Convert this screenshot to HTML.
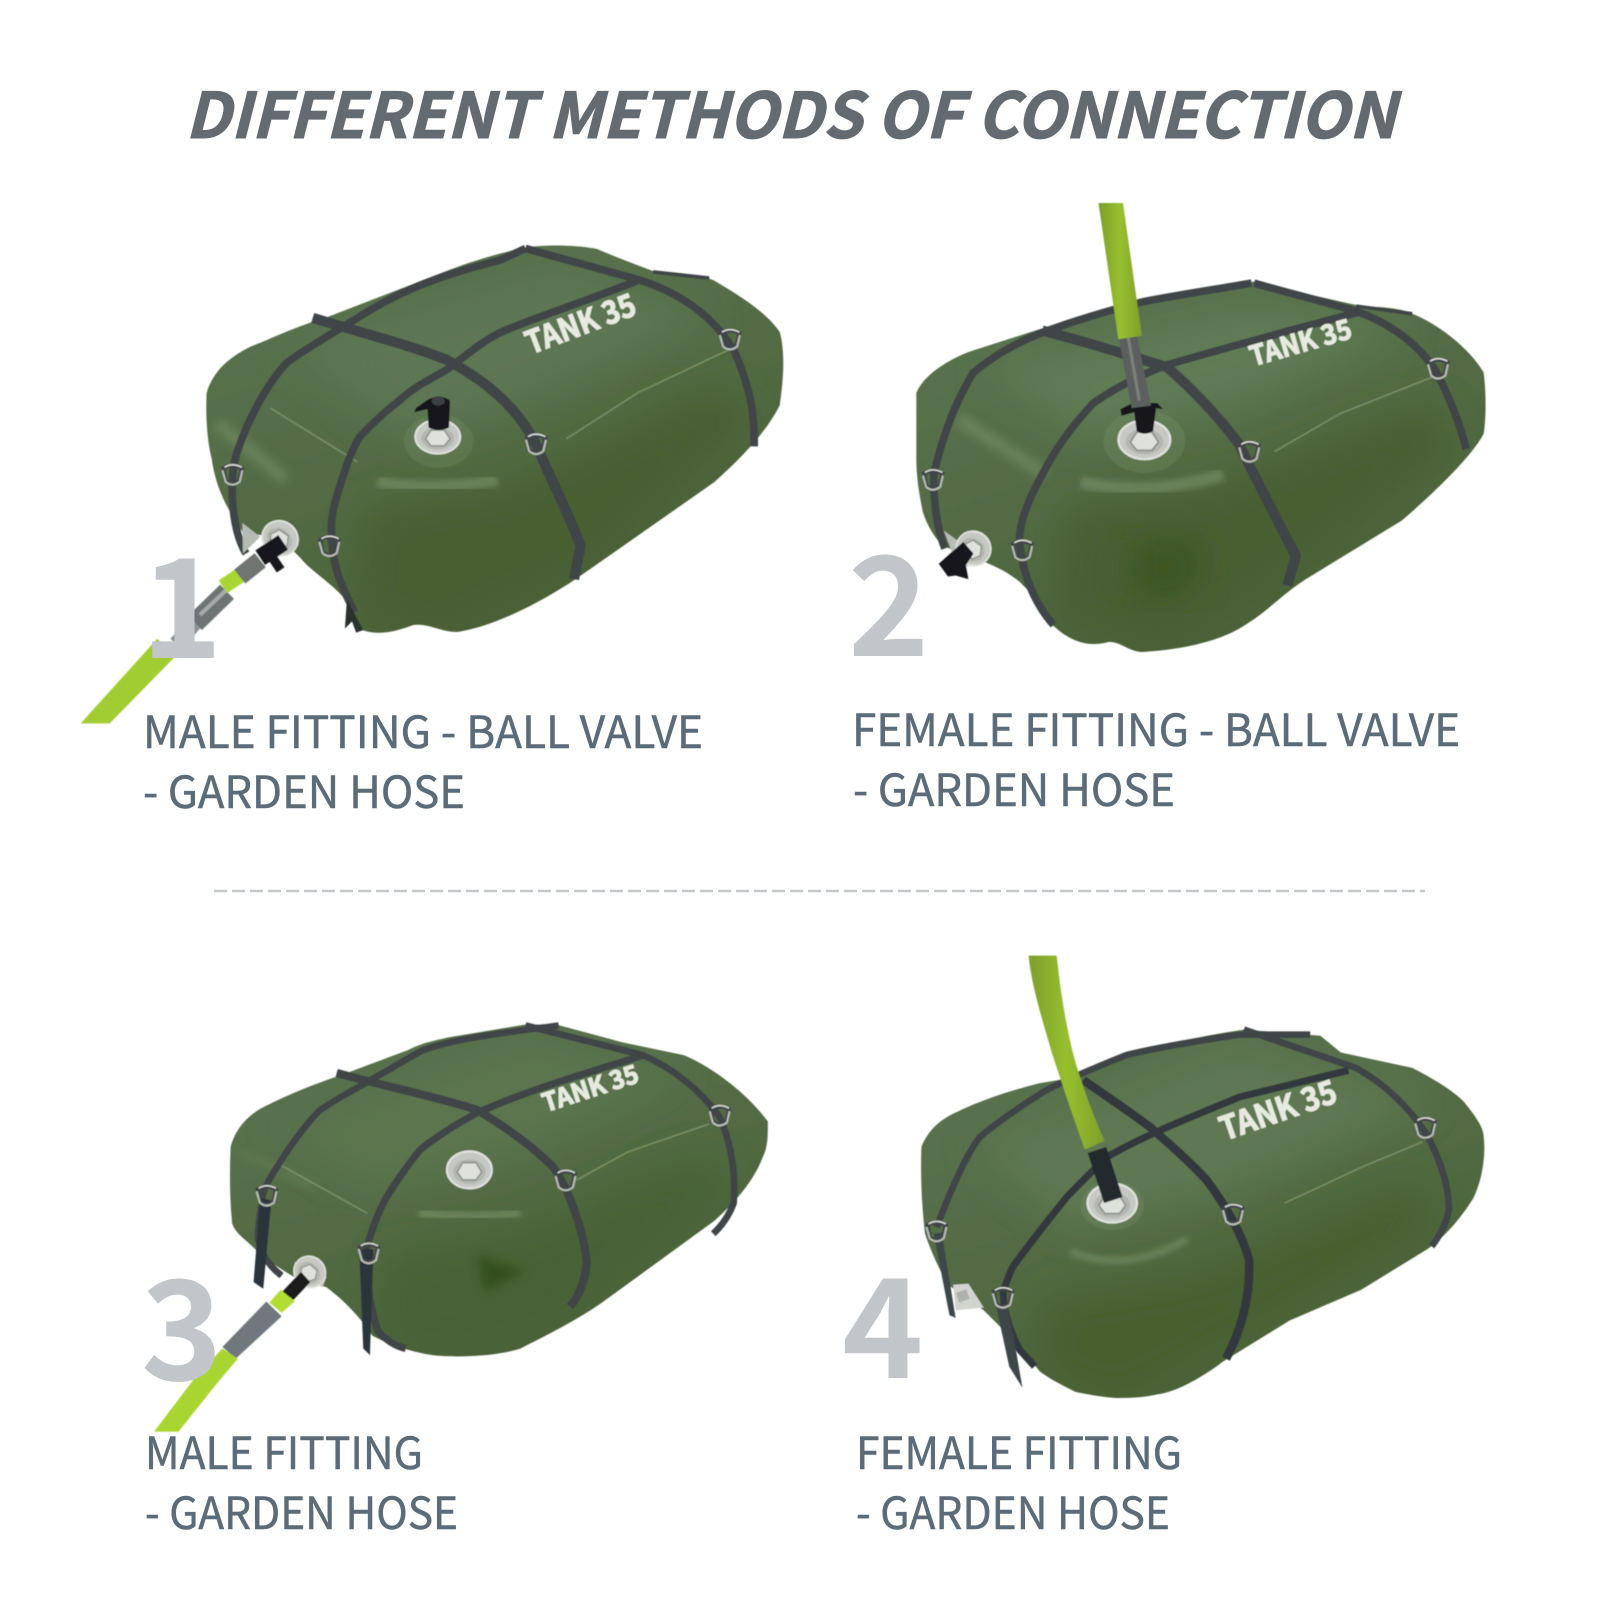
<!DOCTYPE html>
<html><head><meta charset="utf-8"><style>
html,body{margin:0;padding:0;background:#fff}
svg{display:block}
.h{font-family:"Noto Sans CJK JP","Liberation Sans",sans-serif;font-weight:700;font-style:italic;font-size:63px;fill:#636a70;stroke:#636a70;stroke-width:1}
.l{font-family:"Noto Sans CJK JP","Liberation Sans",sans-serif;font-size:44px;fill:#5b6b78;stroke:#5b6b78;stroke-width:.5}
.n{font-family:"Noto Sans CJK JP","Liberation Sans",sans-serif;font-weight:700;font-size:138px;fill:#c2c6ca}
.t{font-family:"Noto Sans CJK JP","Liberation Sans",sans-serif;font-weight:700;font-size:62px;fill:#e6eadf;stroke:#e6eadf;stroke-width:2}
.s{fill:none;stroke:#3f4446;stroke-width:15;stroke-linecap:butt;stroke-linejoin:round}
.a{stroke-width:20}
.m{fill:none;stroke:#8aa076;stroke-width:3;opacity:.7}
.r{fill:none;stroke:#7f9670;stroke-width:24;opacity:.55}
</style></head><body>
<svg width="1600" height="1600" viewBox="0 0 1600 1600" xmlns="http://www.w3.org/2000/svg">
<defs>
<linearGradient id="body" x1="0.15" y1="0" x2="0.65" y2="1"><stop offset="0" stop-color="#5b7350"/><stop offset=".5" stop-color="#536b45"/><stop offset="1" stop-color="#4b6138"/></linearGradient>
<linearGradient id="lime" x1="0" y1="0" x2="1" y2="0"><stop offset="0" stop-color="#7c9f2e"/><stop offset=".5" stop-color="#98bf2f"/><stop offset="1" stop-color="#7f9f2b"/></linearGradient>
<filter id="b40" x="-30%" y="-30%" width="160%" height="160%"><feGaussianBlur stdDeviation="38"/></filter>
<filter id="b12" x="-30%" y="-30%" width="160%" height="160%"><feGaussianBlur stdDeviation="10"/></filter>
<filter id="b5" x="-30%" y="-30%" width="160%" height="160%"><feGaussianBlur stdDeviation="5"/></filter>
<filter id="soft" x="-5%" y="-5%" width="110%" height="110%"><feGaussianBlur stdDeviation="1"/></filter>
<g id="ring" fill="none"><path d="M-17,-12 Q0,-22 19,-12 L14,12 Q0,24 -13,12 Z" stroke="#3f4446" stroke-width="8"/><path d="M-19,-8 L-13,14 Q0,26 15,14 L20,-8" stroke="#b8bdb6" stroke-width="4"/><path d="M-15,-14 Q0,-24 19,-14" stroke="#d8dbd5" stroke-width="3"/></g>
<g id="silver"><ellipse rx="44" ry="33" fill="#c6c9c3"/><ellipse rx="44" ry="33" fill="none" stroke="#dfe1dc" stroke-width="4"/><ellipse cy="3" rx="32" ry="22" fill="#b4b7b1"/><path d="M-24,4 L-13,-13 L13,-13 L24,4 L13,18 L-13,18 Z" fill="#dfe1dc" stroke="#8f938e" stroke-width="3"/></g>
</defs>

<rect width="1600" height="1600" fill="#fff"/>

<!-- TANK 1 -->
<g transform="scale(.5102)" filter="url(#soft)">
<clipPath id="c1"><path d="M405,770 C415,735 440,705 490,680 C540,660 580,640 640,622 L840,545 C900,520 960,500 1030,485 C1080,478 1140,482 1170,488 C1210,505 1250,520 1290,535 C1340,535 1380,540 1400,550 C1450,580 1500,610 1528,650 C1540,690 1535,750 1528,795 C1500,850 1450,900 1400,945 L1150,1120 C1080,1170 980,1225 900,1238 C870,1242 840,1220 810,1225 C770,1240 740,1245 710,1235 L680,1180 C660,1150 610,1120 590,1095 C560,1060 510,1040 480,1050 C455,1010 425,970 415,900 C405,860 403,810 405,770 Z"/></clipPath>
<path d="M405,770 C415,735 440,705 490,680 C540,660 580,640 640,622 L840,545 C900,520 960,500 1030,485 C1080,478 1140,482 1170,488 C1210,505 1250,520 1290,535 C1340,535 1380,540 1400,550 C1450,580 1500,610 1528,650 C1540,690 1535,750 1528,795 C1500,850 1450,900 1400,945 L1150,1120 C1080,1170 980,1225 900,1238 C870,1242 840,1220 810,1225 C770,1240 740,1245 710,1235 L680,1180 C660,1150 610,1120 590,1095 C560,1060 510,1040 480,1050 C455,1010 425,970 415,900 C405,860 403,810 405,770 Z" fill="url(#body)"/>
<g clip-path="url(#c1)">
<path filter="url(#b40)" d="M720,1000 L1000,960 L1400,760 L1480,820 L1150,1120 L850,1260 L700,1200 Z" fill="#485f32"/>
<path filter="url(#b40)" d="M560,680 L1100,520 L1400,620 L1000,800 L800,860 Z" fill="#5d7652"/>
<path filter="url(#b5)" class="r" d="M740,945 Q850,965 975,940"/>
<path filter="url(#b12)" class="r" d="M425,830 L560,940"/>
</g>
<path class="m" d="M1110,860 L1250,770 L1440,680"/><path class="m" d="M530,800 L700,905"/>
<path class="s" d="M1030,487 L980,510 C880,535 790,565 706,620 C640,660 590,690 562,711 C530,745 490,810 464,888 C450,930 450,1030 482,1085"/>
<path class="s" d="M1030,487 L1240,545 C1330,570 1400,620 1440,690 C1470,760 1480,810 1478,875"/>
<path class="s a" d="M613,623 C700,650 800,675 875,705 C920,730 950,750 980,778 C1010,805 1035,840 1050,870 C1085,950 1120,1020 1138,1070 L1125,1135"/>
<path class="s" d="M1255,548 C1150,590 1040,625 980,652 C940,672 910,700 875,725 C840,745 810,760 784,784 C750,810 725,835 705,856 C685,890 675,925 666,954 C650,1000 648,1030 650,1044 C650,1110 670,1150 695,1200"/>
<path d="M680,1175 L712,1235 L698,1240 L690,1218 L676,1232 Z" fill="#2c302f"/>
<path d="M1280,533 L1390,545" class="s" style="stroke-width:7"/>
<use href="#ring" x="455" y="930"/><use href="#ring" x="645" y="1070"/><use href="#ring" x="1050" y="870"/><use href="#ring" x="1430" y="665"/>
<ellipse cx="860" cy="865" rx="68" ry="52" fill="#7f9670" opacity=".25"/>
<use href="#silver" x="858" y="856"/>
<path d="M836,785 L815,800 L812,808 L838,802 L840,838 Q860,848 880,838 L882,785 Q860,770 836,785 Z" fill="#14181a"/>
<ellipse cx="859" cy="786" rx="13" ry="9" fill="#3a4044"/>
<path d="M475,1025 L510,1052 L476,1085 Z" fill="#b5bab2"/>
<g transform="translate(549,1055) rotate(35) scale(.82,1)"><use href="#silver"/></g>
<path d="M158,1418 L215,1418 L345,1285 L308,1252 Z" fill="#a2cd30"/>
<path d="M382,1221 L445,1160" stroke="#6e7373" stroke-width="39" fill="none"/>
<path d="M345,1262 L382,1221" stroke="#8f9493" stroke-width="30" fill="none"/>
<path d="M392,1205 L445,1155" stroke="#a6abaa" stroke-width="8" fill="none"/>
<path d="M437,1150 L476,1124" stroke="#a9d533" stroke-width="30" fill="none"/>
<path d="M470,1130 L510,1098" stroke="#6f7471" stroke-width="35" fill="none"/>
<path d="M510,1093 L555,1063" stroke="#14181a" stroke-width="34" fill="none"/>
<path d="M525,1080 L550,1117" stroke="#14181a" stroke-width="18" fill="none"/>
<text class="t" textLength="226" lengthAdjust="spacingAndGlyphs" transform="translate(1040,695) rotate(-20.7)">TANK 35</text>
</g>

<!-- TANK 2 -->
<g transform="translate(800,0) scale(.5102)" filter="url(#soft)">
<clipPath id="c2"><path d="M228,770 C240,740 280,710 330,690 L470,645 L670,590 C760,570 830,560 890,552 L1010,580 L1100,600 C1150,602 1180,605 1200,615 C1250,635 1310,680 1340,730 C1345,770 1345,820 1340,850 C1320,890 1250,960 1180,1020 L1000,1130 C950,1160 920,1195 880,1220 C830,1255 760,1272 670,1278 C640,1275 630,1258 605,1258 C580,1265 540,1270 490,1220 C470,1180 450,1160 430,1140 C400,1115 360,1100 330,1090 L280,1070 C260,1050 245,1020 240,1000 C232,960 228,930 228,900 Z"/></clipPath>
<path d="M228,770 C240,740 280,710 330,690 L470,645 L670,590 C760,570 830,560 890,552 L1010,580 L1100,600 C1150,602 1180,605 1200,615 C1250,635 1310,680 1340,730 C1345,770 1345,820 1340,850 C1320,890 1250,960 1180,1020 L1000,1130 C950,1160 920,1195 880,1220 C830,1255 760,1272 670,1278 C640,1275 630,1258 605,1258 C580,1265 540,1270 490,1220 C470,1180 450,1160 430,1140 C400,1115 360,1100 330,1090 L280,1070 C260,1050 245,1020 240,1000 C232,960 228,930 228,900 Z" fill="url(#body)"/>
<g clip-path="url(#c2)">
<path filter="url(#b40)" d="M520,1000 L800,960 L1240,790 L1280,880 L1000,1100 L720,1280 L500,1220 Z" fill="#485f32"/>
<path filter="url(#b40)" d="M360,720 L880,590 L1200,640 L860,800 L560,860 Z" fill="#5f7a55"/>
<path filter="url(#b5)" class="r" d="M550,945 Q680,975 830,930"/>
<path filter="url(#b12)" class="r" d="M310,820 L480,930"/>
<path filter="url(#b40)" d="M650,1060 L800,1060 L760,1170 L650,1170 Z" fill="#3a5423"/>
</g>
<path class="m" d="M930,885 L1060,810 L1250,735"/>
<path class="s" d="M885,555 C810,568 740,578 670,592 C600,610 540,628 480,650 Q400,680 340,730 Q290,810 262,930 Q262,1020 284,1075"/>
<path class="s" d="M890,555 C960,575 1030,592 1090,610 Q1190,645 1245,725 Q1285,800 1306,880"/>
<path class="s a" d="M475,648 C560,670 640,695 720,720 Q800,790 860,870 Q920,990 972,1090 L955,1148"/>
<path class="s" d="M1095,612 C970,645 840,680 720,715 Q640,745 575,790 Q510,860 475,930 Q430,1010 430,1060 Q440,1160 497,1225"/>
<path class="s" style="stroke-width:7" d="M1090,600 L1200,615"/>
<use href="#ring" x="260" y="940"/><use href="#ring" x="435" y="1078"/><use href="#ring" x="880" y="885"/><use href="#ring" x="1250" y="722"/>
<ellipse cx="675" cy="865" rx="80" ry="62" fill="#7f9670" opacity=".28"/>
<g transform="translate(675,862) scale(1.15)"><use href="#silver"/></g>
<path d="M652,790 L628,802 L630,815 L655,808 L660,845 Q675,855 692,845 L698,800 L712,802 L700,790 Z" fill="#15191a"/>
<path d="M625,662 L660,655 L688,795 L650,800 Z" fill="#5b5f5d"/>
<path d="M643,660 L665,785" stroke="#7b8078" stroke-width="6" fill="none"/>
<path d="M585,398 L633,398 L670,658 L624,665 Z" fill="url(#lime)"/>
<path d="M282,1040 L365,1100 L310,1115 Z" fill="#b9bcb8"/>
<g transform="translate(340,1075) rotate(35) scale(.78,1)"><use href="#silver"/></g>
<path d="M272,1105 L320,1062 L340,1085 L325,1108 L330,1135 L305,1128 L290,1130 Z" fill="#15191a"/>
<text class="t" textLength="205" lengthAdjust="spacingAndGlyphs" style="font-size:54px" transform="translate(888,718) rotate(-16)">TANK 35</text>
</g>

<!-- TANK 3 -->
<g transform="translate(0,800) scale(.5102)" filter="url(#soft)">
<clipPath id="c3"><path d="M452,680 C460,650 480,620 520,600 C570,575 620,555 680,535 L800,490 C830,475 850,472 880,465 L1030,440 L1090,440 L1220,475 L1340,500 C1390,520 1460,570 1505,630 C1505,660 1505,680 1495,700 C1480,740 1450,780 1400,825 L1180,985 C1130,1020 1070,1050 1020,1075 C980,1088 920,1092 880,1090 C840,1090 810,1080 790,1075 C770,1070 750,1060 730,1050 C710,1020 680,985 640,955 C610,945 590,945 560,925 C530,905 510,895 500,880 C480,860 462,850 455,830 C450,780 450,730 452,680 Z"/></clipPath>
<path d="M452,680 C460,650 480,620 520,600 C570,575 620,555 680,535 L800,490 C830,475 850,472 880,465 L1030,440 L1090,440 L1220,475 L1340,500 C1390,520 1460,570 1505,630 C1505,660 1505,680 1495,700 C1480,740 1450,780 1400,825 L1180,985 C1130,1020 1070,1050 1020,1075 C980,1088 920,1092 880,1090 C840,1090 810,1080 790,1075 C770,1070 750,1060 730,1050 C710,1020 680,985 640,955 C610,945 590,945 560,925 C530,905 510,895 500,880 C480,860 462,850 455,830 C450,780 450,730 452,680 Z" fill="url(#body)"/>
<g clip-path="url(#c3)">
<path filter="url(#b40)" d="M760,900 L1020,850 L1380,700 L1430,760 L1100,1040 L860,1100 L740,1040 Z" fill="#4a6234"/>
<path filter="url(#b40)" d="M540,640 L1040,470 L1340,540 L1000,700 L720,760 Z" fill="#5b7450"/>
<path filter="url(#b12)" d="M935,890 L1030,925 L950,965 Z" fill="#34501f"/>
<path filter="url(#b5)" class="r" d="M820,808 Q930,825 1020,808" style="stroke-width:20"/>
<path filter="url(#b12)" class="r" d="M470,690 L620,760" style="stroke-width:14;opacity:.3"/>
</g>
<path class="m" d="M1130,745 L1230,690 L1390,635"/><path class="m" d="M540,710 L720,810"/>
<path class="s" style="stroke-width:13" d="M1095,442 C1000,455 900,465 830,490 C800,505 770,525 738,542 C700,565 660,585 627,608 C600,635 575,670 555,700 C540,725 525,745 516,770 C510,810 505,840 506,860 Q515,905 552,932"/>
<path class="s" style="stroke-width:13" d="M1030,442 L1260,500 Q1350,540 1410,620 Q1445,700 1438,790 Q1425,825 1398,850"/>
<path class="s" style="stroke-width:16" d="M660,535 C750,560 850,580 934,607 C990,640 1045,680 1084,719 C1105,750 1120,785 1130,817 C1140,845 1148,880 1150,907 Q1145,960 1117,993"/>
<path class="s" style="stroke-width:14" d="M1262,500 C1150,535 1030,570 934,614 C895,635 855,660 823,686 C800,715 778,745 758,778 C740,810 728,845 719,876 Q715,960 740,1040 Q765,1068 795,1075"/>
<path d="M510,780 L532,785 L516,958 L497,945 Z" fill="#2b343a"/>
<path d="M704,880 L732,880 L725,1088 L712,1075 Z" fill="#2b343a"/>
<use href="#ring" x="522" y="775"/><use href="#ring" x="722" y="888"/><use href="#ring" x="1108" y="745"/><use href="#ring" x="1410" y="618"/>
<g transform="translate(920,725) scale(1,1.1)"><use href="#silver"/></g>
<path d="M578,905 L640,935 L632,955 L575,930 Z" fill="#c4c7c1"/>
<g transform="translate(607,925) rotate(40) scale(.72,.9)"><use href="#silver"/></g>
<path d="M590,925 L608,945 L575,980 L552,965 Z" fill="#1a1e1e"/>
<path d="M550,960 L578,982 L552,1005 L528,985 Z" fill="#b3dc36"/>
<path d="M522,983 L552,1012 L462,1095 L436,1072 Z" fill="#71787d"/>
<path d="M436,1075 L466,1095 L420,1150 L350,1238 L302,1238 L380,1135 Z" fill="#a9d533"/>
<text class="t" textLength="195" lengthAdjust="spacingAndGlyphs" style="font-size:50px" transform="translate(1070,612) rotate(-18)">TANK 35</text>
</g>

<!-- TANK 4 -->
<g transform="translate(800,800) scale(.5102)" filter="url(#soft)">
<clipPath id="c4"><path d="M238,680 C250,650 270,630 300,615 C350,590 410,570 470,555 L560,540 L660,495 C730,475 800,460 870,450 L1020,462 L1060,495 L1200,525 C1240,545 1280,570 1300,590 C1320,615 1340,640 1340,660 C1345,700 1335,750 1320,780 C1295,820 1265,855 1230,880 L1100,960 L960,1020 L830,1100 C790,1130 740,1160 700,1165 C670,1172 640,1172 620,1172 C590,1170 565,1165 540,1160 C510,1145 490,1135 470,1120 C450,1095 435,1075 420,1060 L360,1000 L290,950 C270,915 255,880 245,850 C238,790 236,730 238,680 Z"/></clipPath>
<path d="M238,680 C250,650 270,630 300,615 C350,590 410,570 470,555 L560,540 L660,495 C730,475 800,460 870,450 L1020,462 L1060,495 L1200,525 C1240,545 1280,570 1300,590 C1320,615 1340,640 1340,660 C1345,700 1335,750 1320,780 C1295,820 1265,855 1230,880 L1100,960 L960,1020 L830,1100 C790,1130 740,1160 700,1165 C670,1172 640,1172 620,1172 C590,1170 565,1165 540,1160 C510,1145 490,1135 470,1120 C450,1095 435,1075 420,1060 L360,1000 L290,950 C270,915 255,880 245,850 C238,790 236,730 238,680 Z" fill="url(#body)"/>
<g clip-path="url(#c4)">
<path filter="url(#b40)" d="M480,980 L780,930 L1200,750 L1250,840 L860,1060 L620,1190 L460,1120 Z" fill="#48602f"/>
<path filter="url(#b40)" d="M340,680 L860,480 L1240,590 L860,760 L540,840 Z" fill="#5e7853"/>
<path filter="url(#b5)" class="r" d="M530,885 Q640,930 760,860" style="stroke-width:14"/>
</g>
<path class="m" d="M950,790 L1100,720 L1220,670"/>
<path class="s" style="stroke-width:13" d="M1000,460 L860,460 C780,472 700,485 640,500 C590,520 530,545 484,568 C440,595 395,625 353,660 C330,690 315,725 300,758 C288,785 278,810 268,837"/>
<path class="s" style="stroke-width:13" d="M870,450 L1090,525 Q1170,570 1225,650 Q1270,730 1272,800 Q1268,835 1238,875"/>
<path class="s" style="stroke-width:17;stroke:#33393c" d="M555,549 C600,580 645,610 686,641 C725,675 765,710 797,745 Q860,830 880,900 Q885,1000 835,1095"/>
<path class="s" style="stroke-width:14;stroke:#33393c" d="M1075,530 C1000,548 930,565 862,582 C770,620 680,655 601,700 C575,725 550,750 523,778 C485,825 450,870 417,915 C408,935 402,950 398,966 C400,1010 415,1050 431,1078 L460,1110"/>
<path d="M262,850 L278,848 L305,1015 L293,1010 Z" fill="#3d4648"/>
<path d="M385,995 L405,990 L420,1060 L436,1152 L410,1110 Z" fill="#3d4648"/>
<use href="#ring" x="267" y="845"/><use href="#ring" x="397" y="975"/><use href="#ring" x="848" y="812"/><use href="#ring" x="1225" y="642"/>
<ellipse cx="612" cy="795" rx="62" ry="48" fill="#7f9670" opacity=".25"/>
<g transform="translate(612,790) scale(1.1,1.15)"><use href="#silver"/></g>
<path d="M300,950 L330,948 L360,995 L305,1000 Z" fill="#d2d4cf"/>
<rect x="308" y="962" width="22" height="20" fill="#aeb2ad" transform="rotate(-20 319 972)"/>
<path d="M582,686 L614,784" stroke="#23292e" stroke-width="38" fill="none"/>
<path d="M448,305 L503,305 C510,370 520,440 540,515 C560,580 580,630 597,668 L558,685 C535,620 515,560 495,500 C475,430 455,370 448,305 Z" fill="url(#lime)"/>
<text class="t" textLength="238" lengthAdjust="spacingAndGlyphs" style="font-size:64px" transform="translate(832,668) rotate(-19)">TANK 35</text>
</g>

<line x1="214" y1="891" x2="1425" y2="891" stroke="#c5c8ca" stroke-width="2.5" stroke-dasharray="13 5"/>

<text class="h" x="185" y="138" textLength="1211" lengthAdjust="spacingAndGlyphs">DIFFERENT METHODS OF CONNECTION</text>

<text class="n" x="141" y="658">1</text>
<text class="n" x="848" y="656">2</text>
<text class="n" x="141" y="1380">3</text>
<text class="n" x="842" y="1378">4</text>

<text class="l" x="143" y="748" textLength="560" lengthAdjust="spacingAndGlyphs">MALE FITTING - BALL VALVE</text>
<text class="l" x="143" y="808" textLength="322" lengthAdjust="spacingAndGlyphs">- GARDEN HOSE</text>
<text class="l" x="852" y="746" textLength="608" lengthAdjust="spacingAndGlyphs">FEMALE FITTING - BALL VALVE</text>
<text class="l" x="853" y="806" textLength="322" lengthAdjust="spacingAndGlyphs">- GARDEN HOSE</text>
<text class="l" x="145" y="1469" textLength="278" lengthAdjust="spacingAndGlyphs">MALE FITTING</text>
<text class="l" x="145" y="1529" textLength="313" lengthAdjust="spacingAndGlyphs">- GARDEN HOSE</text>
<text class="l" x="856" y="1469" textLength="326" lengthAdjust="spacingAndGlyphs">FEMALE FITTING</text>
<text class="l" x="856" y="1529" textLength="314" lengthAdjust="spacingAndGlyphs">- GARDEN HOSE</text>
</svg>
</body></html>
